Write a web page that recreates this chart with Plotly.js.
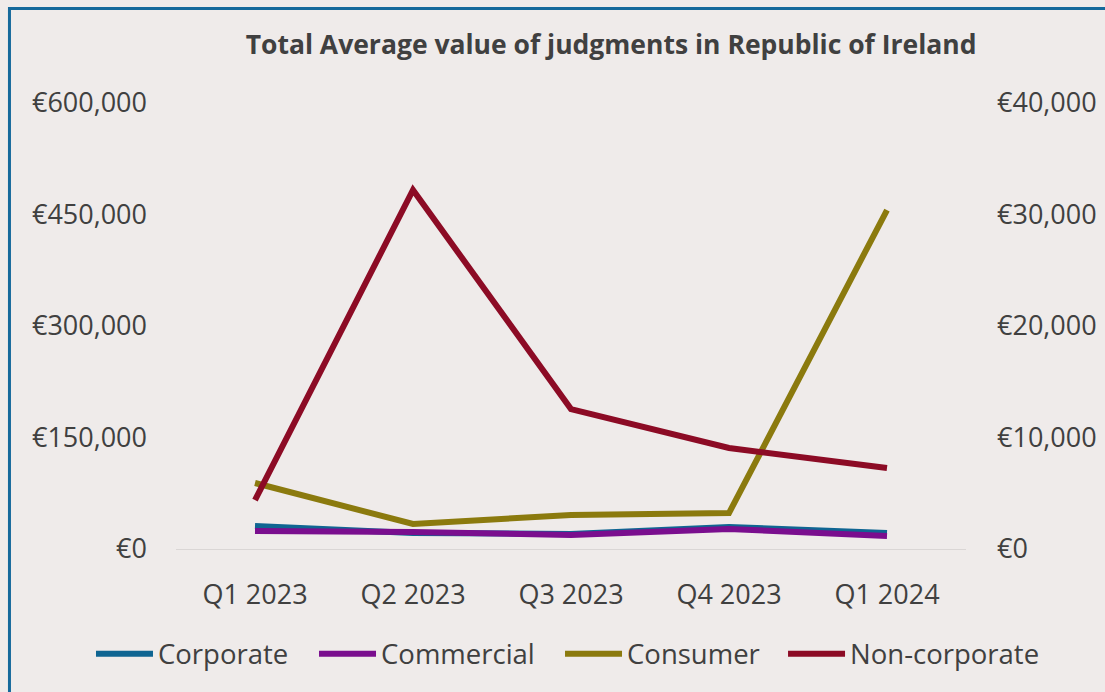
<!DOCTYPE html>
<html>
<head>
<meta charset="utf-8">
<script src="https://cdn.plot.ly/plotly-3.0.1.min.js"></script>
<style>
  body { margin: 0; background: #EFEBEA; }
  #plotArea { width: 1105px; height: 692px; }
</style>
</head>
<body>
<div id="plotArea"></div>
<script>
// quarters on the category axis
var quarters = ["Q1 2023", "Q2 2023", "Q3 2023", "Q4 2023", "Q1 2024"];

// left axis (EUR)
var corporate  = [30900, 21500, 20200, 29600, 21500];
var commercial = [24200, 22900, 18800, 26900, 17500];
var consumer   = [88800, 33600, 45700, 48400, 456000];
// right axis (EUR)
var nonCorporate = [4390, 32200, 12550, 9060, 7270];

var leftTicks  = [0, 150000, 300000, 450000, 600000];
var rightTicks = [0, 10000, 20000, 30000, 40000];

var txt = "#404040";
var fnt = "Open Sans, DejaVu Sans, sans-serif";

// euro labels like €150,000
function euro(v) {
    return "\u20AC" + String(v).replace(/\B(?=(\d{3})+(?!\d))/g, ",");
}

function line(name, y, color, axis, leg) {
    return {
        x: quarters, y: y, name: name, type: "scatter", mode: "lines",
        yaxis: axis, legend: leg,
        line: {color: color, width: 6}
    };
}

// one legend per series so the spacing can follow the original
function legendAt(x) {
    return {
        orientation: "h",
        x: x, xanchor: "left",
        y: -0.235, yanchor: "middle",
        font: {size: 27.5, color: txt},
        itemwidth: 57,
        bgcolor: "rgba(0,0,0,0)"
    };
}

var traces = [
    line("Corporate", corporate, "#0F6592", "y", "legend"),
    line("Commercial", commercial, "#7A0E8E", "y", "legend2"),
    line("Consumer", consumer, "#8B7A0E", "y", "legend3"),
    line("Non-corporate", nonCorporate, "#8C0B25", "y2", "legend4")
];

var layout = {
    width: 1105, height: 692,
    paper_bgcolor: "#EFEBEA",
    plot_bgcolor: "#EFEBEA",
    font: {family: fnt, color: txt, size: 27},
    margin: {l: 176, r: 139, t: 103, b: 143},
    title: {
        text: "<b>Total Average value of judgments in Republic of Ireland</b>",
        font: {size: 26.5, color: txt},
        xref: "container", x: 0.553, xanchor: "center",
        yref: "container", y: 0.935, yanchor: "middle"
    },
    showlegend: true,
    legend: legendAt(-0.1076),
    legend2: legendAt(0.1747),
    legend3: legendAt(0.4861),
    legend4: legendAt(0.7684),
    xaxis: {
        type: "category",
        range: [-0.5, 4.5],
        showgrid: false, zeroline: false,
        showline: true, linecolor: "#DAD6D5", linewidth: 1,
        ticks: "",
        ticklabelstandoff: 22,
        tickfont: {size: 27, color: txt}
    },
    yaxis: {
        range: [0, 600000],
        tickmode: "array",
        tickvals: leftTicks,
        ticktext: leftTicks.map(euro),
        showgrid: false, zeroline: false, showline: false,
        ticks: "",
        ticklabelstandoff: 28,
        tickfont: {size: 27, color: txt}
    },
    yaxis2: {
        overlaying: "y", side: "right",
        range: [0, 40000],
        tickmode: "array",
        tickvals: rightTicks,
        ticktext: rightTicks.map(euro),
        showgrid: false, zeroline: false, showline: false,
        ticks: "",
        ticklabelstandoff: 30,
        tickfont: {size: 27, color: txt}
    },
    shapes: [{
        type: "rect", xref: "paper", yref: "paper",
        x0: -0.2108, x1: 1.19, y0: -0.34, y1: 1.2119,
        line: {color: "#15699B", width: 3},
        layer: "below"
    }]
};

Plotly.newPlot("plotArea", traces, layout, {displayModeBar: false});
</script>
</body>
</html>
